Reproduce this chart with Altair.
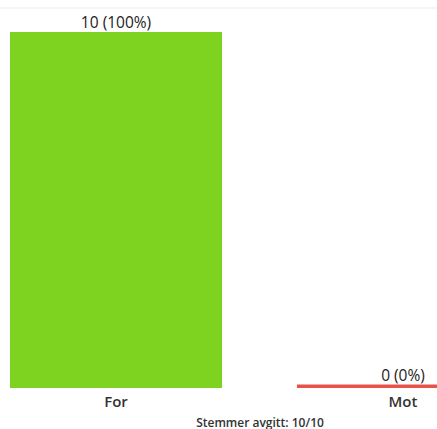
import altair as alt
import pandas as pd

categories = ["For", "Mot"]
votes = [10, 0]
labels = ["10 (100%)", "0 (0%)"]
colors = ["#7ed321", "#e5534b"]
footer = "Stemmer avgitt: 10/10"

df = pd.DataFrame({"cat": categories, "votes": votes, "label": labels})

FONT = "Open Sans"

x = alt.X(
    "cat:N",
    sort=categories,
    scale=alt.Scale(range=[-27.5, 546.5], paddingInner=0.261, paddingOuter=0.1306),
    axis=alt.Axis(
        title=footer,
        labelAngle=0,
        labelFont=FONT,
        labelFontSize=15,
        labelFontWeight=600,
        labelColor="#333333",
        labelPadding=6,
        ticks=False,
        domain=False,
        titleFont=FONT,
        titleFontSize=12,
        titleFontWeight=600,
        titleColor="#333333",
        titlePadding=8,
    ),
)
y = alt.Y("votes:Q", scale=alt.Scale(domain=[0, 10.9], nice=False), axis=None)
color = alt.Color("cat:N", scale=alt.Scale(domain=categories, range=colors), legend=None)

base = alt.Chart(df)

bars = base.transform_filter("datum.votes > 0").mark_bar().encode(x=x, y=y, color=color)
zero_bars = base.transform_filter("datum.votes == 0").mark_bar(strokeWidth=3.5, yOffset=-1.75).encode(
    x=x, y=y, color=color, stroke=alt.Stroke("cat:N", scale=alt.Scale(domain=categories, range=colors), legend=None)
)

text_kw = dict(font=FONT, fontSize=15.5, color="#222222", baseline="alphabetic", align="center")
texts = base.transform_filter("datum.votes > 0").mark_text(dy=-4, **text_kw).encode(x=x, y=y, text="label:N")
zero_texts = base.transform_filter("datum.votes == 0").mark_text(dy=-7, **text_kw).encode(x=x, y=y, text="label:N")

top_line = alt.Chart(pd.DataFrame({"a": [0]})).mark_rule(color="#f0f0f0", strokeWidth=1.5).encode(
    x=alt.value(0), x2=alt.value(437), y=alt.value(8)
)

chart = alt.layer(top_line, bars, zero_bars, texts, zero_texts).properties(
    width=437,
    height=388,
    autosize=alt.AutoSizeParams(type="none"),
    padding={"left": 0, "top": 0, "right": 0, "bottom": 41},
    background="white",
).configure_view(stroke=None)

chart.save("out.html", embed_options={"renderer": "svg", "actions": False})
